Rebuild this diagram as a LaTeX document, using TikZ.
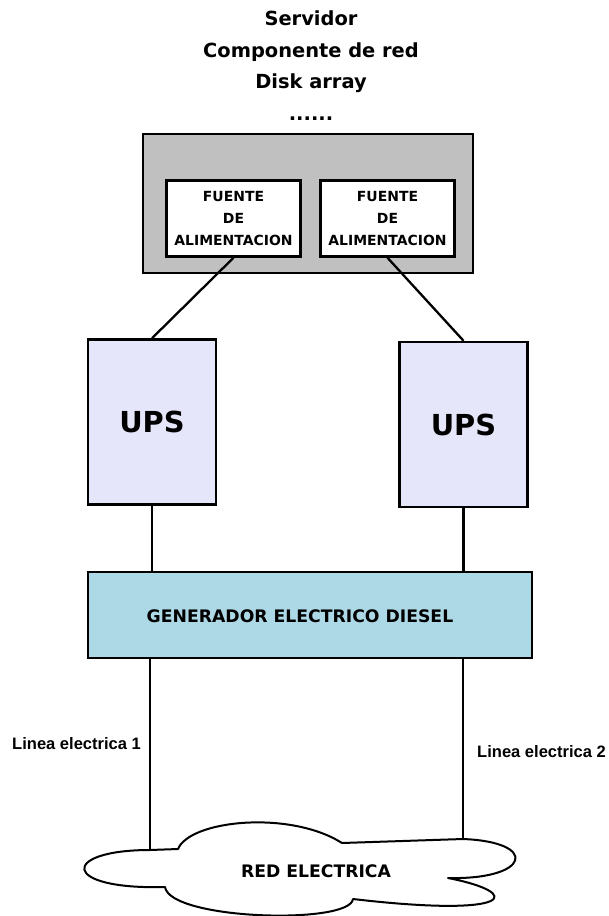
\documentclass[tikz,border=0pt]{standalone}
\usepackage{fontspec}
\setmainfont{DejaVu Sans}
\newfontfamily\arialfont{Liberation Sans}
\definecolor{servergray}{HTML}{C0C0C0}
\definecolor{upsfill}{HTML}{E6E6FA}
\definecolor{genfill}{HTML}{ADD8E6}
\tikzset{
  caja/.style={draw=black, line width=2.5bp, inner sep=0pt},
  titulo/.style={align=center, inner sep=0pt, font=\bfseries\fontsize{19.5}{31.5}\selectfont},
  servidor/.style={caja, fill=servergray, minimum width=330bp, minimum height=139bp},
  fuente/.style={caja, fill=white, minimum width=134bp, minimum height=76bp, align=center, font=\bfseries\fontsize{14}{22}\selectfont},
  ups/.style={caja, fill=upsfill, minimum width=128bp, minimum height=165bp, font=\bfseries\fontsize{29}{34}\selectfont},
  generador/.style={caja, fill=genfill, minimum width=444bp, minimum height=86bp},
  rotulo/.style={inner sep=0pt, font=\bfseries\fontsize{17.3}{20}\selectfont},
  lineatexto/.style={inner sep=0pt, font=\arialfont\bfseries\fontsize{16.6}{20}\selectfont},
  conector/.style={line width=2.3bp},
  linea/.style={line width=1.8bp},
  nube/.style={draw=black, fill=white, line width=2bp, line join=round}
}
\begin{document}
\begin{tikzpicture}[x=1bp, y=-1bp]
    \useasboundingbox (0,0) rectangle (609,916);
    \node[titulo, anchor=north] (titulo) at (311,11) {Servidor\\Componente de red\\Disk array\\......};
    \node[servidor] (srv) at (308,203.5) {};
    \node[fuente] (fa1) at (233.5,218.5) {FUENTE\\DE\\ALIMENTACION};
    \node[fuente] (fa2) at (387.5,218.5) {FUENTE\\DE\\ALIMENTACION};
    \node[ups] (ups1) at (152,422) {UPS};
    \node[ups] (ups2) at (463.5,424.5) {UPS};
    \node[generador, label={[rotulo, xshift=-10bp, yshift=-1.5bp]center:GENERADOR ELECTRICO DIESEL}] (gen) at (310,615) {};
    \draw[conector] (fa1.south) -- (ups1.north);
    \draw[conector] (fa2.south) -- (ups2.north);
    \draw[conector] (ups1.south) -- (ups1.south |- gen.north);
    \draw[conector] (ups2.south) -- (ups2.south |- gen.north);
    \coordinate (c1) at (150,850);
    \coordinate (c2) at (463,839);
    \draw[linea] (gen.south -| c1) -- (c1);
    \draw[linea] (gen.south -| c2) -- (c2);
    \draw[nube] (c1) -- (178,849) .. controls (190,820) and (290,810) .. (342,843)
        -- (c2) .. controls (540,842) and (530,880) .. (448,878)
        .. controls (525,893) and (515,918) .. (353,899)
        .. controls (350,925) and (170,920) .. (165,887)
        .. controls (60,890) and (60,850) .. (c1) -- cycle;
    \node[rotulo] (red) at (316,871) {RED ELECTRICA};
    \node[lineatexto, anchor=base west] (l1) at (12,749) {Linea electrica 1};
    \node[lineatexto, anchor=base west] (l2) at (477,757) {Linea electrica 2};
\end{tikzpicture}
\end{document}
